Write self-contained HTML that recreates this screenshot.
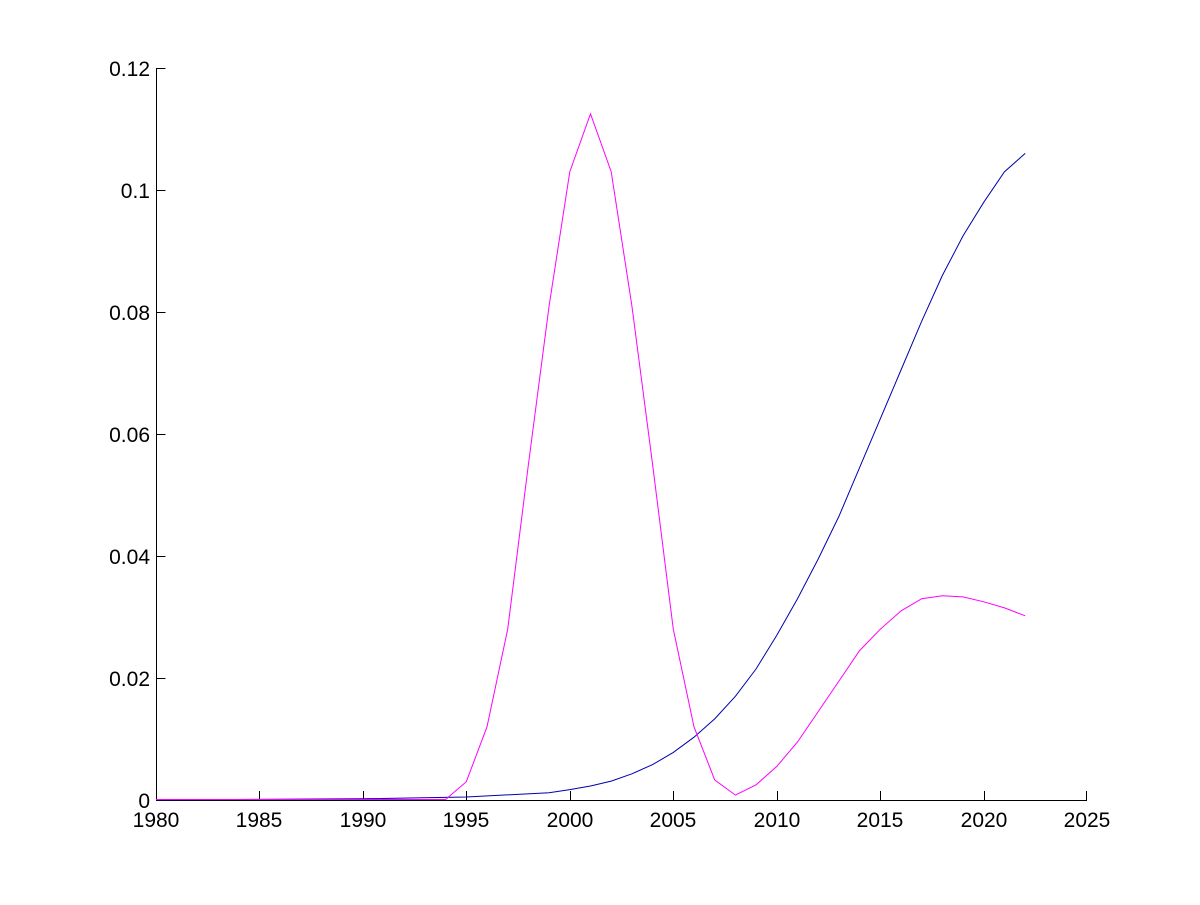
<!DOCTYPE html>
<html><head><meta charset="utf-8"><style>
body{margin:0;background:#fff}
text{font-family:"Liberation Sans",Arial,sans-serif;font-size:21px;fill:#000}
</style></head><body>
<svg width="1200" height="900" xmlns="http://www.w3.org/2000/svg">
<rect width="1200" height="900" fill="#fff"/>
<g stroke="#000" stroke-width="1" fill="none">
<line x1="156.5" y1="68" x2="156.5" y2="800.5"/>
<line x1="156" y1="800.5" x2="1087" y2="800.5"/>
<path d="M156.5 68.5h9M156.5 190.5h9M156.5 312.5h9M156.5 434.5h9M156.5 556.5h9M156.5 678.5h9
M259.5 800v-9M363.5 800v-9M466.5 800v-9M570.5 800v-9M673.5 800v-9M777.5 800v-9M880.5 800v-9M984.5 800v-9M1086.5 800v-9"/>
</g>
<g text-anchor="end">
<text x="150" y="76">0.12</text><text x="150" y="198">0.1</text><text x="150" y="320">0.08</text>
<text x="150" y="442">0.06</text><text x="150" y="564">0.04</text><text x="150" y="686">0.02</text><text x="150" y="808">0</text>
</g>
<g text-anchor="middle">
<text x="156" y="827">1980</text><text x="259" y="827">1985</text><text x="363" y="827">1990</text>
<text x="466" y="827">1995</text><text x="570" y="827">2000</text><text x="673" y="827">2005</text>
<text x="777" y="827">2010</text><text x="880" y="827">2015</text><text x="984" y="827">2020</text><text x="1087" y="827">2025</text>
</g>
<polyline fill="none" stroke="#0000b0" stroke-width="1" points="156,800 363,798.8 466.3,797 549.1,792.7 569.8,789.6 590.5,786 611.2,781.1 631.9,773.8 652.6,764.6 673.3,752.4 694,737.2 714.7,718.9 735.4,696.3 756.1,668.9 776.8,635.3 797.5,598.7 818.2,559 838.9,516.4 859.6,467.6 880.3,418.8 901,370 921.7,321.2 942.4,275.4 963.1,235.8 983.8,202.2 1004.5,171.7 1025.2,153.4"/>
<polyline fill="none" stroke="#ff00ff" stroke-width="1" points="156,799.5 445.6,799.5 466.3,781.7 487,726.8 507.7,629.2 528.4,464.5 549.1,305.9 569.8,171.7 590.5,113.8 611.2,171.7 631.9,305.9 652.6,464.5 673.3,629.2 694,726.8 714.7,779.9 735.4,795.1 756.1,784.8 776.8,766.4 797.5,742 818.2,711.6 838.9,681.1 859.6,650.6 880.3,629.2 901,610.9 921.7,598.7 942.4,595.7 963.1,596.9 983.8,601.8 1004.5,607.9 1025.2,615.8"/>
</svg>
</body></html>
